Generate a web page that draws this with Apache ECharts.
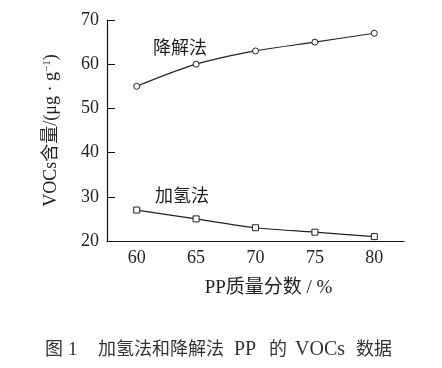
<!DOCTYPE html>
<html><head><meta charset="utf-8">
<script src="https://cdn.jsdelivr.net/npm/echarts@6/dist/echarts.min.js"></script>
<style>html,body{margin:0;padding:0;background:#fff}#c{width:442px;height:368px}</style>
</head><body><div id="c"></div>
<script>
const categories = ['60', '65', '70', '75', '80'];
const degradation = [55, 60, 63, 65, 67];
const hydrogenation = [27, 25, 23, 22, 21];
const yTicks = {min: 20, max: 70, interval: 10};

const serif = '"Liberation Serif", "Noto Sans CJK SC", serif';
const chart = echarts.init(document.getElementById('c'), null, {renderer: 'canvas'});
const caption = [
  ['图', 45, 18], ['1', 68, 19], ['加氢法和降解法', 98, 18], ['PP', 234, 20], ['的', 269, 18], ['VOCs', 295, 20], ['数据', 356, 18]
];
chart.setOption({
  animation: false,
  backgroundColor: '#fff',
  grid: {left: 107, right: 38, top: 20, bottom: 127},
  xAxis: {
    type: 'category', data: categories, boundaryGap: true,
    axisLine: {lineStyle: {color: '#111', width: 1.2}},
    axisTick: {show: false},
    axisLabel: {color: '#222', fontFamily: serif, fontSize: 18, margin: 8},
    name: 'PP质量分数 / %', nameLocation: 'middle', nameGap: 38,
    nameTextStyle: {color: '#222', fontFamily: serif, fontSize: 19, padding: [0, 0, 0, 26]}
  },
  yAxis: {
    type: 'value', min: yTicks.min, max: yTicks.max, interval: yTicks.interval,
    axisLine: {show: true, lineStyle: {color: '#111', width: 1.2}},
    axisTick: {show: true, inside: true, length: 8, lineStyle: {color: '#111'}},
    splitLine: {show: false},
    axisLabel: {color: '#222', fontFamily: serif, fontSize: 18, margin: 8},
    name: 'VOCs含量/(μg · g{sup|−1})', nameLocation: 'middle', nameGap: 46,
    nameTextStyle: {color: '#222', fontFamily: serif, fontSize: 18,
      rich: {sup: {fontSize: 11, fontFamily: serif, color: '#222', verticalAlign: 'top', padding: [0, 0, 8, 0]}}}
  },
  series: [
    {type: 'line', data: degradation, smooth: 0.3, symbol: 'circle', symbolSize: 6,
     lineStyle: {color: '#222', width: 1.2},
     itemStyle: {color: '#fff', borderColor: '#222', borderWidth: 1}},
    {type: 'line', data: hydrogenation, smooth: 0.3, symbol: 'rect', symbolSize: 6,
     lineStyle: {color: '#222', width: 1.2},
     itemStyle: {color: '#fff', borderColor: '#222', borderWidth: 1}}
  ],
  graphic: [
    {type: 'text', left: 153, top: 40, style: {text: '降解法', font: '18px ' + serif, fill: '#222'}},
    {type: 'text', left: 155, top: 188, style: {text: '加氢法', font: '18px ' + serif, fill: '#222'}}
  ].concat(caption.map(([t, x, fs]) => ({type: 'text', left: x, top: 352 - Math.round(fs * 0.6),
    style: {text: t, font: fs + 'px ' + serif, fill: '#333'}})))
});
</script></body></html>
